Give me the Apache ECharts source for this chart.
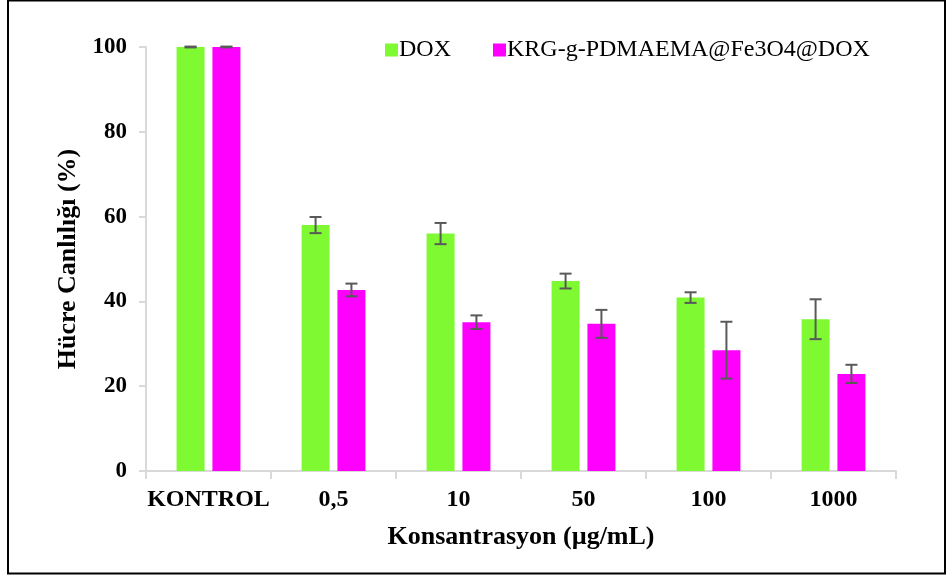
<!DOCTYPE html>
<html>
<head>
<meta charset="utf-8">
<script src="https://cdn.jsdelivr.net/npm/echarts@6/dist/echarts.min.js"></script>
<style>
  html, body { margin: 0; padding: 0; background: #fff; }
  #chart { width: 950px; height: 576px; }
</style>
</head>
<body>
<div id="chart"></div>
<script>
// Concentrations tested
const categories = ['KONTROL', '0,5', '10', '50', '100', '1000'];

// Cell viability (%) and standard deviations
const doxValues = [100, 58.0, 56.0, 44.8, 40.9, 35.8];
const doxErrors = [0.1, 1.9, 2.5, 1.75, 1.25, 4.7];
const krgValues = [100, 42.7, 35.1, 34.7, 28.5, 22.9];
const krgErrors = [0.1, 1.5, 1.6, 3.3, 6.7, 2.15];

const yTicks = { min: 0, max: 100, interval: 20 };

const seriesNames = ['DOX', 'KRG-g-PDMAEMA@Fe3O4@DOX'];
const colors = ['#7FFA32', '#FF00FF'];

const FONT = '"Liberation Serif", "Times New Roman", serif';
const BAR_FRAC = 0.224;   // bar width relative to category band
const GAP_FRAC = 0.28;    // gap between paired bars relative to bar width

function errorSeries(values, errors, side) {
  return {
    type: 'custom',
    z: 10,
    silent: true,
    data: values.map((v, i) => [i, v - errors[i], v + errors[i]]),
    renderItem: function (params, api) {
      const idx = api.value(0);
      const band = api.size([1, 0])[0];
      const barW = band * BAR_FRAC;
      const offset = side * (barW + barW * GAP_FRAC) / 2;
      const lo = api.coord([idx, api.value(1)]);
      const hi = api.coord([idx, api.value(2)]);
      const x = lo[0] + offset;
      const cap = 6;
      const style = { stroke: '#595959', lineWidth: 2 };
      return {
        type: 'group',
        children: [
          { type: 'line', shape: { x1: x, y1: lo[1], x2: x, y2: hi[1] }, style: style },
          { type: 'line', shape: { x1: x - cap, y1: lo[1], x2: x + cap, y2: lo[1] }, style: style },
          { type: 'line', shape: { x1: x - cap, y1: hi[1], x2: x + cap, y2: hi[1] }, style: style }
        ]
      };
    }
  };
}

const chart = echarts.init(document.getElementById('chart'));
chart.setOption({
  animation: false,
  backgroundColor: '#fff',
  textStyle: { fontFamily: FONT },
  graphic: [{
    type: 'rect',
    shape: { x: 8, y: 0.5, width: 937, height: 573 },
    style: { fill: 'none', stroke: '#000', lineWidth: 2 },
    silent: true
  }],
  legend: {
    data: seriesNames,
    left: 385,
    top: 38,
    padding: 0,
    icon: 'rect',
    itemWidth: 13,
    itemHeight: 13,
    itemGap: 42,
    textStyle: { fontFamily: FONT, fontSize: 24, color: '#000', padding: [0, 0, 0, -4] }
  },
  grid: { left: 146, right: 54, top: 47, bottom: 105 },
  xAxis: {
    type: 'category',
    data: categories,
    name: 'Konsantrasyon (µg/mL)',
    nameLocation: 'middle',
    nameGap: 53,
    nameTextStyle: { fontFamily: FONT, fontSize: 26, fontWeight: 'bold', color: '#000' },
    axisLine: { lineStyle: { color: '#d9d9d9', width: 2 } },
    axisTick: { show: true, length: 8, lineStyle: { color: '#d9d9d9', width: 2 } },
    axisLabel: { interval: 0, fontFamily: FONT, fontSize: 24, fontWeight: 'bold', color: '#000', margin: 17 },
    splitLine: { show: false }
  },
  yAxis: {
    type: 'value',
    min: yTicks.min,
    max: yTicks.max,
    interval: yTicks.interval,
    name: 'Hücre Canlılığı (%)',
    nameLocation: 'middle',
    nameGap: 63,
    nameRotate: 90,
    nameTextStyle: { fontFamily: FONT, fontSize: 26, fontWeight: 'bold', color: '#000' },
    axisLine: { show: true, lineStyle: { color: '#d9d9d9', width: 2 } },
    axisTick: { show: true, length: 7, lineStyle: { color: '#d9d9d9', width: 2 } },
    axisLabel: { fontFamily: FONT, fontSize: 23, fontWeight: 'bold', color: '#000', margin: 19 },
    splitLine: { show: false }
  },
  series: [
    {
      name: seriesNames[0],
      type: 'bar',
      data: doxValues,
      barWidth: (BAR_FRAC * 100) + '%',
      barGap: (GAP_FRAC * 100) + '%',
      itemStyle: { color: colors[0] }
    },
    {
      name: seriesNames[1],
      type: 'bar',
      data: krgValues,
      barWidth: (BAR_FRAC * 100) + '%',
      barGap: (GAP_FRAC * 100) + '%',
      itemStyle: { color: colors[1] }
    },
    errorSeries(doxValues, doxErrors, -1),
    errorSeries(krgValues, krgErrors, 1)
  ]
});
</script>
</body>
</html>
